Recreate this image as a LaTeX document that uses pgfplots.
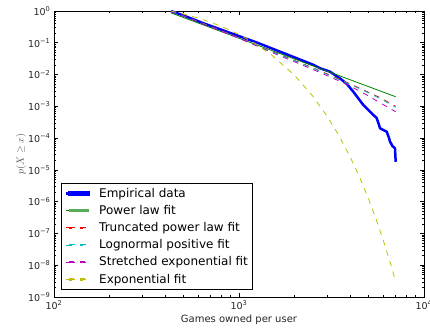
\documentclass[border=0pt]{standalone}
\usepackage{pgfplots}
\pgfplotsset{compat=1.18}
\usepackage{fontspec}
\setmainfont{DejaVu Sans}
\definecolor{mplb}{rgb}{0,0,1}
\definecolor{mplg}{rgb}{0,0.5,0}
\definecolor{mplr}{rgb}{1,0,0}
\definecolor{mplc}{rgb}{0,0.75,0.75}
\definecolor{mplm}{rgb}{0.75,0,0.75}
\definecolor{mply}{rgb}{0.75,0.75,0}
\pgfplotsset{
  dashleg/.style={legend image code/.code={%
    \path (0pt,0pt) -- (3.5pt,0pt);
    \fill[#1] (3.7pt,-0.55pt) rectangle (9.2pt,0.55pt);
    \fill[#1] (14.7pt,-0.55pt) rectangle (20.2pt,0.55pt);}},
  solidleg/.style 2 args={legend image code/.code={%
    \path (0pt,0pt) -- (3.5pt,0pt);
    \fill[#1] (3.7pt,-#2) rectangle (22.7pt,#2);}},
}
\begin{document}
\begin{tikzpicture}
\path[use as bounding box] (-54pt,-34pt) rectangle (376pt,297pt);
\begin{axis}[
  at={(0,0)}, anchor=south west,
  scale only axis, width=370pt, height=286pt,
  xmode=log, ymode=log,
  xmin=100, xmax=10000, ymin=1e-9, ymax=1,
  xtick={100,1000,10000},
  xticklabels={10\textsuperscript{2},10\textsuperscript{3},10\textsuperscript{4}},
  minor xtick={200,300,400,500,600,700,800,900,2000,3000,4000,5000,6000,7000,8000,9000},
  ytick={1e-9,1e-8,1e-7,1e-6,1e-5,1e-4,1e-3,1e-2,1e-1,1},
  yticklabels={10\textsuperscript{−9},10\textsuperscript{−8},10\textsuperscript{−7},10\textsuperscript{−6},10\textsuperscript{−5},10\textsuperscript{−4},10\textsuperscript{−3},10\textsuperscript{−2},10\textsuperscript{−1},10\textsuperscript{0}},
  minor ytick={2e-9,3e-9,4e-9,5e-9,6e-9,7e-9,8e-9,9e-9,
    2e-8,3e-8,4e-8,5e-8,6e-8,7e-8,8e-8,9e-8,
    2e-7,3e-7,4e-7,5e-7,6e-7,7e-7,8e-7,9e-7,
    2e-6,3e-6,4e-6,5e-6,6e-6,7e-6,8e-6,9e-6,
    2e-5,3e-5,4e-5,5e-5,6e-5,7e-5,8e-5,9e-5,
    2e-4,3e-4,4e-4,5e-4,6e-4,7e-4,8e-4,9e-4,
    2e-3,3e-3,4e-3,5e-3,6e-3,7e-3,8e-3,9e-3,
    2e-2,3e-2,4e-2,5e-2,6e-2,7e-2,8e-2,9e-2,
    0.2,0.3,0.4,0.5,0.6,0.7,0.8,0.9},
  tick align=inside,
  major tick length=4pt, minor tick length=2pt,
  tick style={black, line width=0.6pt},
  axis line style={black, line width=0.9pt},
  tick label style={font=\fontsize{9.5}{11}\selectfont, text=black!85},
  xlabel={Games owned per user},
  xlabel style={font=\fontsize{10}{12}\selectfont, text=black!85, at={(axis description cs:0.5,-0.078)}, anchor=center},
  ylabel={$p(X\geq x)$},
  ylabel style={font=\fontsize{10}{12}\selectfont, text=black!70, at={(axis description cs:-0.089,0.5)}, anchor=center},
  legend style={at={(0.019,0.024)}, anchor=south west, draw=black, line width=0.9pt,
    font=\fontsize{12}{14}\selectfont, row sep=2.6pt, column sep=7.5pt,
    inner xsep=3pt, inner ysep=3pt},
  legend cell align=left,
]
% Empirical data
\addplot[mplb, line width=2.5pt, solidleg={mplb}{1.3pt}] table {
428.5 1.0
501.2 0.724
631.0 0.427
794.3 0.263
1000 0.162
1258.9 0.100
1584.9 0.0589
1995.3 0.0347
2511.9 0.0204
2741.6 0.0158
3104.6 0.0123
3515.6 0.00759
3819.4 0.00513
4149.5 0.00288
4698.9 0.00110
4897.8 0.00087
5321.1 0.000537
5546.3 0.00043
5688.5 0.00028
5780.9 0.000205
6095.4 0.000174
6280.6 0.00016
6456.5 0.000105
6546.1 0.000078
6760.8 0.000056
6966.3 0.000048
7030.6 0.000018
};
\addlegendentry{Empirical data}
% Power law fit
\addplot[mplg, line width=0.8pt, solidleg={mplg!65}{0.8pt}] table {
428.5 0.875
7030.6 0.00200
};
\addlegendentry{Power law fit}
% Truncated power law
\addplot[mplr, line width=0.8pt, dash pattern=on 5.5pt off 5.5pt, dashleg={mplr}] table {
428.5 1.0
631.0 0.417
1000 0.1445
1584.9 0.0479
2511.9 0.0162
3235.9 0.00871
3981.1 0.00513
4897.8 0.00295
5754.4 0.00191
7030.6 0.00100
};
\addlegendentry{Truncated power law fit}
% Lognormal positive
\addplot[mplc, line width=0.8pt, dash pattern=on 5.5pt off 5.5pt, dashleg={mplc}] table {
428.5 1.0
631.0 0.417
1000 0.1413
1584.9 0.0468
2511.9 0.0158
3235.9 0.00832
3981.1 0.0049
4897.8 0.00282
5754.4 0.00178
7030.6 0.000933
};
\addlegendentry{Lognormal positive fit}
% Stretched exponential
\addplot[mplm, line width=0.8pt, dash pattern=on 5.5pt off 5.5pt, dashleg={mplm}] table {
428.5 1.0
631.0 0.407
1000 0.138
1584.9 0.0437
2511.9 0.01445
3235.9 0.00759
3981.1 0.00437
4897.8 0.00229
5754.4 0.00132
7030.6 0.000676
};
\addlegendentry{Stretched exponential fit}
% Exponential
\addplot[mply, line width=0.8pt, dash pattern=on 5.5pt off 5.5pt, dashleg={mply}] table {
428.5 1.0
500 0.807
600 0.600
700 0.446
800 0.331
1000 0.183
1200 0.101
1500 0.0414
2000 0.00938
2500 0.00212
3000 0.000481
3500 0.000109
4000 0.0000247
4500 0.00000559
5000 0.00000127
5500 0.000000287
6000 0.000000065
6500 0.0000000147
7030.6 0.00000000305
};
\addlegendentry{Exponential fit}
\end{axis}
\end{tikzpicture}
\end{document}
